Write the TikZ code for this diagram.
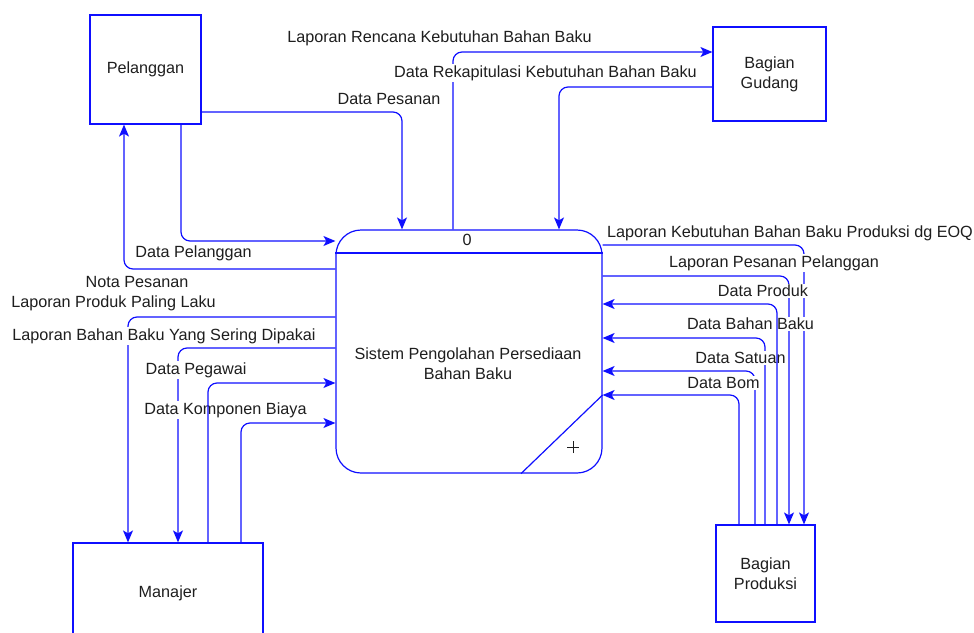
\documentclass[tikz,border=0pt]{standalone}
\usepackage{fontspec}
\setmainfont{Liberation Sans}
\usetikzlibrary{arrows.meta}
\definecolor{dfdblue}{RGB}{15,15,255}
\definecolor{dfdtext}{RGB}{30,30,30}
\begin{document}
\begin{tikzpicture}[x=1pt,y=-1pt,
  every node/.style={font=\fontsize{16.2}{20}\selectfont, text=dfdtext},
  entity/.style={draw=dfdblue, line width=1.2pt, rectangle, inner sep=0pt, align=center},
  process/.style={draw=dfdblue, line width=1.2pt, rounded corners=25pt,
    minimum width=266pt, minimum height=243pt, inner sep=0pt},
  flow/.style={draw=dfdblue, line width=1.2pt, rounded corners=9pt,
    -{Stealth[length=12pt,width=10pt,inset=3pt]}},
  edge/.style={draw=dfdblue, line width=1.2pt},
  lbl/.style={inner sep=1.5pt, fill=white},
]
\clip (0,0) rectangle (974,632);

% external entities
\node[entity, minimum width=111pt, minimum height=109pt] (pel) at (145.5,69.5) {Pelanggan};
\node[entity, minimum width=113pt, minimum height=94pt] (gud) at (769.5,74) {Bagian\\Gudang};
\node[entity, minimum width=190pt, minimum height=100pt] (man) at (168,593) {Manajer};
\node[entity, minimum width=99pt, minimum height=97pt] (pro) at (765.5,573.5) {Bagian\\Produksi};

% process 0
\node[process] (proc) at (469,351.5) {};
\node[align=center] (proctext) at (468,363.5) {Sistem Pengolahan Persediaan\\Bahan Baku};
\node (pnum) at (467,240) {0};
\draw[edge] (proc.west |- 0,253) -- (proc.east |- 0,253);
\draw[edge] (proc.east |- 0,395) -- (proc.south -| 521,0);
\coordinate (pc) at (573,447);
\draw[draw=dfdtext, line width=0.8pt] ([xshift=-6pt]pc) -- ([xshift=6pt]pc)
  ([yshift=-6pt]pc) -- ([yshift=6pt]pc);

% data flows: Pelanggan and Gudang
\draw[flow] (pel.east |- 0,112) -| (proc.north -| 402,0);
\draw[flow] (pel.south -| 181,0) |- (proc.west |- 0,241);
\draw[flow] (proc.west |- 0,269) -| (pel.south -| 124,0);
\draw[flow] (proc.north -| 453,0) |- (gud.west |- 0,52);
\draw[flow] (gud.west |- 0,87) -| (proc.north -| 559,0);

% data flows: Manajer
\draw[flow] (proc.west |- 0,317) -| (man.north -| 128,0);
\draw[flow] (proc.west |- 0,348) -| (man.north -| 178,0);
\draw[flow] (man.north -| 241,0) |- (proc.west |- 0,423);

% data flows: Bagian Produksi
\draw[flow] (proc.east |- 0,245) -| (pro.north -| 804,0);
\draw[flow] (proc.east |- 0,276) -| (pro.north -| 789,0);
\draw[flow] (pro.north -| 765,0) |- (proc.east |- 0,338);
\draw[flow] (pro.north -| 755,0) |- (proc.east |- 0,371);
\draw[flow] (pro.north -| 739,0) |- (proc.east |- 0,395);

% flow labels
\node[lbl] (l1) at (439.5,38) {Laporan Rencana Kebutuhan Bahan Baku};
\node[lbl] (l2) at (545.5,73) {Data Rekapitulasi Kebutuhan Bahan Baku};
\node[lbl] (l3) at (389,99) {Data Pesanan};
\node[lbl] (l4) at (193.5,253) {Data Pelanggan};
\node[lbl] (l5) at (137,282) {Nota Pesanan};
\node[lbl] (l6) at (113.5,303) {Laporan Produk Paling Laku};
\node[lbl] (l7) at (164,336) {Laporan Bahan Baku Yang Sering Dipakai};
\node[lbl] (l8) at (196,370) {Data Pegawai};
\node[lbl] (l9) at (225.5,410) {Data Komponen Biaya};
\node[lbl] (l10) at (790,233) {Laporan Kebutuhan Bahan Baku Produksi dg EOQ};
\node[lbl] (l11) at (774,263) {Laporan Pesanan Pelanggan};
\node[lbl] (l12) at (763,291) {Data Produk};
\node[lbl] (l13) at (750.5,324) {Data Bahan Baku};
\node[lbl] (l14) at (740.5,358) {Data Satuan};
\node[lbl] (l15) at (723.5,383) {Data Bom};

% flows drawn over the labels
\draw[flow] (man.north -| 208,0) |- (proc.west |- 0,383);
\draw[flow] (pro.north -| 777,0) |- (proc.east |- 0,304);
\end{tikzpicture}
\end{document}
